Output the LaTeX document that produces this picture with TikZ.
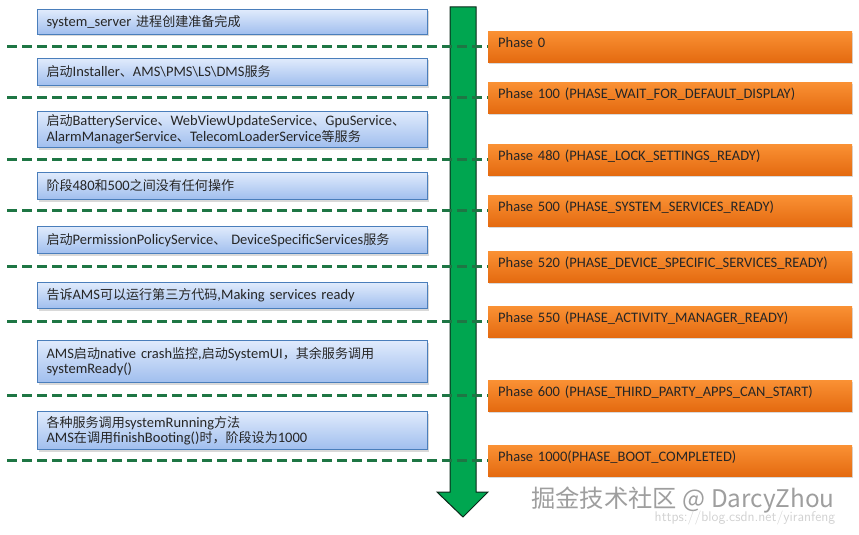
\documentclass[tikz,border=0pt]{standalone}
\usepackage{fontspec}
\setmainfont{Carlito}
\newfontfamily\cjk[Scale=0.9]{Noto Sans CJK SC}
\usetikzlibrary{shadows}
\newcommand\zh[1]{{\cjk #1}}

\definecolor{boxtop}{RGB}{224,235,252}
\definecolor{boxbot}{RGB}{160,190,238}
\definecolor{boxline}{RGB}{74,126,187}
\definecolor{phtop}{RGB}{250,145,52}
\definecolor{phbot}{RGB}{228,106,16}
\definecolor{flow}{RGB}{0,166,80}
\definecolor{flowline}{RGB}{10,40,25}
\definecolor{sepgreen}{RGB}{30,118,68}

\begin{document}
\begin{tikzpicture}[x=1pt,y=-1pt,
		stepbox/.style={draw=boxline, line width=1pt, top color=boxtop, bottom color=boxbot, anchor=north west, minimum width=390pt, text width=372pt, inner xsep=9pt, inner ysep=0pt, align=left, text=black!85, font=\fontsize{14.5}{15.5}\selectfont, drop shadow={shadow xshift=1pt, shadow yshift=-2pt, opacity=0.3}},
		phase/.style={top color=phtop, bottom color=phbot, anchor=north west, minimum width=358pt, minimum height=31pt, text width=344pt, inner xsep=10pt, align=left, text height=8pt, text depth=6pt, text=black!85, font=\fontsize{14.5}{15}\selectfont, drop shadow={shadow xshift=1pt, shadow yshift=-2pt, opacity=0.3}},
		sep/.style={sepgreen, line width=3.2pt, dash pattern=on 10pt off 5pt}
		]
		
		\useasboundingbox (0,0) rectangle (859,535);
		
		% time line
		\draw[flowline, line width=1pt, fill=flow] (450,7) -- (476,7) -- (476,492) -- (488,492) -- (463,517) -- (437,492) -- (450,492) -- cycle;
		
		% what happens between the phases
		\node[stepbox, minimum height=25pt] (s1) at (37,9) {system\_server \zh{进程创建准备完成}};
		\node[stepbox, minimum height=27pt] (s2) at (37,58) {\zh{启动}Installer\zh{、}AMS\textbackslash PMS\textbackslash LS\textbackslash DMS\zh{服务}};
		\node[stepbox, minimum height=36pt] (s3) at (37,111) {\zh{启动}BatteryService\zh{、}WebViewUpdateService\zh{、}GpuService\zh{、}\\AlarmManagerService\zh{、}TelecomLoaderService\zh{等服务}};
		\node[stepbox, minimum height=27pt] (s4) at (37,172) {\zh{阶段}480\zh{和}500\zh{之间没有任何操作}};
		\node[stepbox, minimum height=27pt] (s5) at (37,226) {\zh{启动}PermissionPolicyService\zh{、} DeviceSpecificServices\zh{服务}};
		\node[stepbox, minimum height=26pt] (s6) at (37,282) {\zh{告诉}AMS\zh{可以运行第三方代码},Making services ready};
		\node[stepbox, minimum height=42pt] (s7) at (37,340) {AMS\zh{启动}native crash\zh{监控},\zh{启动}SystemUI\zh{，其余服务调用}\\systemReady()};
		\node[stepbox, minimum height=38pt] (s8) at (37,411) {\zh{各种服务调用}systemRunning\zh{方法}\\AMS\zh{在调用}finishBooting()\zh{时，阶段设为}1000};
		
		% the phases
		\node[phase] (p0) at (488,31) {Phase 0};
		\node[phase] (p100) at (488,82) {Phase 100 (PHASE\_WAIT\_FOR\_DEFAULT\_DISPLAY)};
		\node[phase] (p480) at (488,144) {Phase 480 (PHASE\_LOCK\_SETTINGS\_READY)};
		\node[phase] (p500) at (488,195) {Phase 500 (PHASE\_SYSTEM\_SERVICES\_READY)};
		\node[phase] (p520) at (488,251) {Phase 520 (PHASE\_DEVICE\_SPECIFIC\_SERVICES\_READY)};
		\node[phase] (p550) at (488,306) {Phase 550 (PHASE\_ACTIVITY\_MANAGER\_READY)};
		\node[phase] (p600) at (488,380) {Phase 600 (PHASE\_THIRD\_PARTY\_APPS\_CAN\_START)};
		\node[phase] (p1000) at (488,445) {Phase 1000(PHASE\_BOOT\_COMPLETED)};
		
		\foreach \p in {p0,p100,p480,p500,p520,p550,p600,p1000}{
			\coordinate (l\p) at (7,0 |- \p.west);
			\draw[sep] (l\p) -- (\p.west);
		}
		
		% watermark
		\node[font=\cjk\fontsize{27}{27}\selectfont, text=black!38, inner sep=0pt] (mark) at (683,500) {掘金技术社区 @ DarcyZhou};
		\node[font=\fontsize{14}{14}\selectfont\sffamily, text=black!18, inner sep=0pt] (url) at (745,518) {https://blog.csdn.net/yiranfeng};
		
	\end{tikzpicture}
\end{document}
